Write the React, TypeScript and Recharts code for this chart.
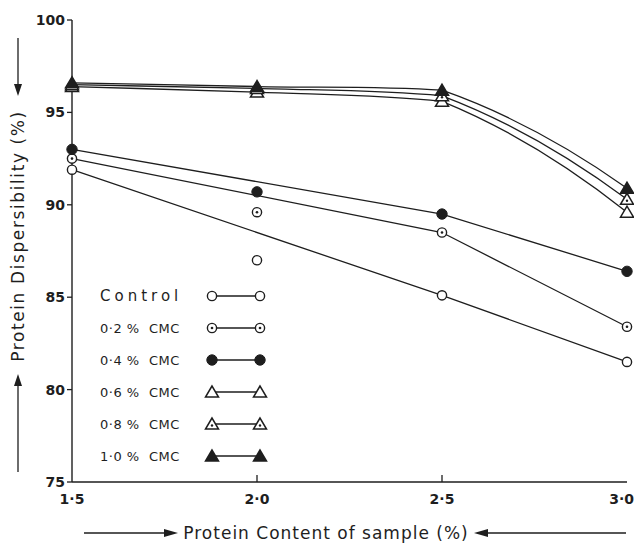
import React from 'react';
import { ComposedChart, Line, Scatter, XAxis, YAxis, Legend } from 'recharts';

const xValues = [1.5, 2.0, 2.5, 3.0];
const xTickLabels = ['1·5', '2·0', '2·5', '3·0'];
const yTicks = [75, 80, 85, 90, 95, 100];

const controlValues = [91.9, 87.0, 85.1, 81.5];
const cmc02Values = [92.5, 89.6, 88.5, 83.4];
const cmc04Values = [93.0, 90.7, 89.5, 86.4];
const cmc06Values = [96.4, 96.1, 95.6, 89.6];
const cmc08Values = [96.5, 96.3, 95.9, 90.3];
const cmc10Values = [96.6, 96.4, 96.2, 90.9];

const seriesNames = ['Control', '0·2 %  CMC', '0·4 %  CMC', '0·6 %  CMC', '0·8 %  CMC', '1·0 %  CMC'];
const seriesValues = [controlValues, cmc02Values, cmc04Values, cmc06Values, cmc08Values, cmc10Values];
const markerKinds = ['open', 'dot', 'filled', 'tri', 'tridot', 'trifill'];
// circle series: fitted line drawn through 1.5, 2.5, 3.0 (2.0 point lies off the line)
const lineSkipsMiddle = [true, true, true, false, false, false];
const smoothLine = [false, false, false, true, true, true];

const ink = '#1e1e1e';
const font = '"DejaVu Sans", sans-serif';

// Hand-drawn style curve: cubic Hermite segments that follow each chord,
// leaning only slightly on the neighbouring chord (a curve factory passed to Recharts' Line).
function sketchCurve(context: any) {
  let xs: number[] = [];
  let ys: number[] = [];
  return {
    areaStart() {},
    areaEnd() {},
    lineStart() {
      xs = [];
      ys = [];
    },
    point(x: number, y: number) {
      xs.push(+x);
      ys.push(+y);
    },
    lineEnd() {
      const n = xs.length;
      if (n === 0) return;
      context.moveTo(xs[0], ys[0]);
      if (n === 1) return;
      const s: number[] = [];
      for (let i = 0; i < n - 1; i++) s.push((ys[i + 1] - ys[i]) / (xs[i + 1] - xs[i]));
      for (let i = 0; i < n - 1; i++) {
        const h = xs[i + 1] - xs[i];
        const m0 = i === 0 ? s[0] : 0.65 * s[i] + 0.35 * s[i - 1];
        const m1 = i === n - 2 ? 2 * s[i] - m0 : 0.9 * s[i] + 0.1 * s[i + 1];
        context.bezierCurveTo(
          xs[i] + h / 3,
          ys[i] + (m0 * h) / 3,
          xs[i + 1] - h / 3,
          ys[i + 1] - (m1 * h) / 3,
          xs[i + 1],
          ys[i + 1]
        );
      }
    },
  };
}

function Marker({ kind, cx, cy }: { kind: string; cx: number; cy: number }) {
  if (cx == null || cy == null) return null;
  if (kind === 'open') return <circle cx={cx} cy={cy} r={4.6} fill="#fff" stroke={ink} strokeWidth={1.4} />;
  if (kind === 'dot')
    return (
      <g>
        <circle cx={cx} cy={cy} r={4.6} fill="#fff" stroke={ink} strokeWidth={1.4} />
        <circle cx={cx} cy={cy} r={1.3} fill={ink} />
      </g>
    );
  if (kind === 'filled') return <circle cx={cx} cy={cy} r={5.2} fill={ink} stroke={ink} strokeWidth={1} />;
  const pts = `${cx},${cy - 6} ${cx - 6.5},${cy + 5} ${cx + 6.5},${cy + 5}`;
  if (kind === 'tri') return <polygon points={pts} fill="#fff" stroke={ink} strokeWidth={1.5} />;
  if (kind === 'tridot')
    return (
      <g>
        <polygon points={pts} fill="#fff" stroke={ink} strokeWidth={1.5} />
        <circle cx={cx} cy={cy + 1.5} r={1.2} fill={ink} />
      </g>
    );
  return <polygon points={pts} fill={ink} stroke={ink} strokeWidth={1.5} />;
}

function XTick(props: any) {
  const { x, y, payload } = props;
  const i = xValues.indexOf(payload.value);
  const last = i === xValues.length - 1;
  return (
    <g>
      {i > 0 && i < 3 && <line x1={x} x2={x} y1={y} y2={y - 7} stroke={ink} strokeWidth={1.3} />}
      <text
        x={last ? x + 7 : x}
        y={y + 22}
        textAnchor={last ? 'end' : 'middle'}
        fontSize={14}
        fontWeight="bold"
        fill={ink}
        fontFamily={font}
      >
        {xTickLabels[i]}
      </text>
    </g>
  );
}

function LegendBox() {
  return (
    <div style={{ fontFamily: font, color: ink }}>
      {seriesNames.map((n, i) => (
        <div key={n} style={{ display: 'flex', alignItems: 'center', height: 32 }}>
          <span
            style={{
              width: 104,
              fontSize: i === 0 ? 15 : 13,
              letterSpacing: i === 0 ? 4 : 0.5,
              whiteSpace: 'pre',
            }}
          >
            {n}
          </span>
          <svg width={64} height={16} style={{ overflow: 'visible' }}>
            <line x1={8} x2={56} y1={8} y2={8} stroke={ink} strokeWidth={1.3} />
            <Marker kind={markerKinds[i]} cx={8} cy={8} />
            <Marker kind={markerKinds[i]} cx={56} cy={8} />
          </svg>
        </div>
      ))}
    </div>
  );
}

export default function App() {
  const lineData = seriesValues.map((vals, s) =>
    xValues
      .map((x, i) => ({ x, y: vals[i] }))
      .filter((_, i) => !(lineSkipsMiddle[s] && i === 1))
  );
  const pointData = seriesValues.map((vals) => xValues.map((x, i) => ({ x, y: vals[i] })));

  return (
    <div style={{ position: 'absolute', left: 0, top: 0, width: 634, height: 544, background: '#fff' }}>
      <ComposedChart
        width={634}
        height={544}
        margin={{ top: 20, right: 7, bottom: 32, left: 32 }}
        style={{ fontFamily: font }}
      >
        <XAxis
          dataKey="x"
          type="number"
          domain={[1.5, 3.0]}
          ticks={xValues}
          allowDuplicatedCategory={false}
          tickSize={0}
          tickMargin={0}
          height={30}
          tick={<XTick />}
          axisLine={{ stroke: ink, strokeWidth: 1.4 }}
          interval={0}
        />
        <YAxis
          yAxisId="l"
          type="number"
          domain={[75, 100]}
          ticks={yTicks}
          width={40}
          tickSize={5}
          tickMargin={2}
          interval={0}
          axisLine={{ stroke: ink, strokeWidth: 1.4 }}
          tickLine={{ stroke: ink, strokeWidth: 1.3 }}
          tick={{ fill: ink, fontSize: 14, fontWeight: 'bold', fontFamily: font }}
        />
        <YAxis
          yAxisId="r"
          orientation="right"
          mirror
          width={0}
          type="number"
          domain={[75, 100]}
          ticks={[80, 95]}
          tickFormatter={() => ''}
          tickSize={6}
          axisLine={{ stroke: ink, strokeWidth: 1.4 }}
          tickLine={{ stroke: ink, strokeWidth: 1.3 }}
        />
        {lineData.map((d, s) => (
          <Line
            key={'l' + s}
            yAxisId="l"
            data={d}
            dataKey="y"
            type={(smoothLine[s] ? sketchCurve : 'linear') as any}
            stroke={ink}
            strokeWidth={1.3}
            dot={false}
            activeDot={false}
            legendType="none"
            isAnimationActive={false}
          />
        ))}
        {pointData.map((d, s) => (
          <Scatter
            key={'p' + s}
            yAxisId="l"
            data={d}
            dataKey="y"
            legendType="none"
            isAnimationActive={false}
            shape={(p: any) => <Marker kind={markerKinds[s]} cx={p.cx} cy={p.cy} />}
          />
        ))}
        <Legend
          layout="horizontal"
          verticalAlign="middle"
          align="center"
          content={() => <LegendBox />}
          wrapperStyle={{ left: 100, top: 280, width: 180, height: 196 }}
        />
      </ComposedChart>
      <svg
        width={634}
        height={544}
        style={{ position: 'absolute', left: 0, top: 0, pointerEvents: 'none' }}
      >
        <text
          transform="translate(24,236) rotate(-90)"
          textAnchor="middle"
          fontSize={17}
          letterSpacing={1.6}
          fill={ink}
          fontFamily={font}
        >
          Protein Dispersibility (%)
        </text>
        <line x1={18} x2={18} y1={472} y2={384} stroke={ink} strokeWidth={1.3} />
        <polygon points="18,374 14,386 22,386" fill={ink} />
        <line x1={18} x2={18} y1={38} y2={86} stroke={ink} strokeWidth={1.3} />
        <polygon points="18,96 14,84 22,84" fill={ink} />
        <text x={326} y={539} textAnchor="middle" fontSize={17} letterSpacing={1} fill={ink} fontFamily={font}>
          Protein Content of sample (%)
        </text>
        <line x1={84} x2={166} y1={533} y2={533} stroke={ink} strokeWidth={1.3} />
        <polygon points="178,533 164,529 164,537" fill={ink} />
        <line x1={626} x2={486} y1={533} y2={533} stroke={ink} strokeWidth={1.3} />
        <polygon points="474,533 488,529 488,537" fill={ink} />
      </svg>
    </div>
  );
}
